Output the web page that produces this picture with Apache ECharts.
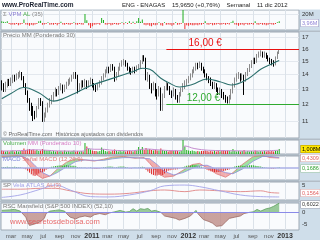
<!DOCTYPE html>
<html><head><meta charset="utf-8">
<script src="https://cdn.jsdelivr.net/npm/echarts@6/dist/echarts.min.js"></script>
<style>html,body{margin:0;padding:0;background:#cfdeea}#c{width:320px;height:240px}</style>
</head><body><div id="c"></div>
<script>
// ---------- data (weekly, first week = 2010-01-25) ----------
const firstWeek = [2010, 0, 25];
// [open, close, low, high]
const candles = [
[13.4,13.2,12.9,13.6],[13.2,13.0,12.8,13.4],[13.0,13.3,12.8,13.5],[13.3,13.5,13.1,13.7],[13.5,13.4,13.2,13.7],
[13.4,13.6,13.2,13.8],[13.6,13.8,13.4,14.0],[13.8,13.7,13.5,14.0],[13.7,13.9,13.6,14.1],[13.9,14.0,13.7,14.2],
[14.0,14.1,13.8,14.3],[14.1,13.8,13.6,14.2],[13.8,13.3,13.1,13.9],[13.3,12.8,12.6,13.4],[12.8,12.3,12.1,12.9],
[12.3,11.9,11.6,12.4],[11.9,11.6,11.3,12.1],[11.6,11.4,11.0,11.9],[11.4,11.3,11.1,11.6],[11.3,11.8,11.2,11.9],
[11.8,12.2,11.7,12.4],[12.2,12.1,11.9,12.4],[12.1,11.1,10.95,12.2],[11.1,11.3,10.95,11.5],[11.3,11.6,11.2,11.8],
[11.6,11.9,11.5,12.1],[11.9,12.2,11.8,12.4],[12.2,12.4,12.0,12.6],[12.4,12.6,12.2,12.8],[12.6,12.9,12.5,13.1],
[12.9,12.7,12.5,13.0],[12.7,13.0,12.6,13.2],[13.0,13.2,12.9,13.4],[13.2,12.9,12.7,13.3],[12.9,13.1,12.8,13.3],
[13.1,13.3,13.0,13.5],[13.3,13.5,13.2,13.7],[13.5,13.6,13.3,13.8],[13.6,13.8,13.5,14.0],[13.8,14.0,13.7,14.2],
[14.0,13.9,13.7,14.2],[13.9,12.9,12.7,14.0],[12.9,13.2,12.8,13.4],[13.2,13.4,13.0,13.6],[13.4,13.3,13.1,13.6],
[13.3,13.5,13.1,13.7],[13.5,13.2,13.0,13.6],[13.2,13.4,13.1,13.6],[13.4,13.6,13.3,13.8],[13.6,13.3,13.1,13.7],
[13.3,13.1,12.9,13.4],[13.1,13.0,12.8,13.3],[13.0,13.2,12.9,13.4],[13.2,13.4,13.1,13.6],[13.4,13.7,13.3,13.9],
[13.7,13.9,13.6,14.1],[13.9,14.2,13.8,14.4],[14.2,14.4,14.1,14.6],[14.4,14.3,14.1,14.6],[14.3,14.6,14.2,14.8],
[14.6,14.5,14.3,14.8],[14.5,13.7,13.5,14.6],[13.7,14.0,13.6,14.2],[14.0,14.4,13.9,14.6],[14.4,14.7,14.3,14.9],
[14.7,14.9,14.6,15.1],[14.9,15.0,14.7,15.2],[15.0,14.8,14.6,15.1],[14.8,14.5,14.3,14.9],[14.5,14.3,14.1,14.6],
[14.3,14.2,14.0,14.5],[14.2,14.4,14.1,14.6],[14.4,14.3,14.1,14.6],[14.3,14.5,14.2,14.7],[14.5,14.6,14.4,14.8],
[14.6,14.9,14.5,15.1],[14.9,15.3,14.8,15.5],[15.3,15.2,15.0,15.5],[15.2,13.8,13.6,15.3],[13.8,13.9,13.5,14.2],
[13.9,13.2,13.0,14.0],[13.2,13.0,12.7,13.4],[13.0,13.3,12.9,13.5],[13.3,12.8,12.5,13.4],[12.8,12.6,12.3,13.0],
[12.6,13.0,12.5,13.2],[13.0,11.7,11.6,13.1],[11.7,12.5,11.6,12.7],[12.5,13.0,12.4,13.2],[13.0,13.3,12.9,13.5],
[13.3,13.1,12.9,13.4],[13.1,12.8,12.6,13.2],[12.8,12.6,12.4,12.9],[12.6,12.9,12.5,13.1],[12.9,12.4,12.3,13.0],
[12.4,12.2,12.1,12.6],[12.2,12.6,12.1,12.8],[12.6,12.9,12.5,13.1],[12.9,13.2,12.8,13.4],[13.2,13.4,13.0,13.6],
[13.4,13.5,13.2,13.7],[13.5,13.7,13.4,13.9],[13.7,13.9,13.6,14.1],[13.9,14.2,13.8,14.4],[14.2,14.4,14.1,14.6],
[14.4,14.7,14.3,14.9],[14.7,14.6,14.4,14.9],[14.6,14.8,14.5,15.0],[14.8,14.5,14.3,14.9],[14.5,14.3,14.1,14.6],
[14.3,14.0,13.8,14.4],[14.0,13.8,13.6,14.1],[13.8,13.6,13.4,13.9],[13.6,13.4,13.2,13.8],[13.4,13.2,13.0,13.5],
[13.2,13.3,13.0,13.5],[13.3,13.0,12.8,13.4],[13.0,12.8,12.6,13.1],[12.8,12.9,12.6,13.1],[12.9,12.6,12.4,13.0],
[12.6,12.5,12.3,12.8],[12.5,12.3,12.1,12.6],[12.3,12.15,12.05,12.5],[12.15,12.4,12.05,12.6],[12.4,12.8,12.3,13.0],
[12.8,13.2,12.7,13.4],[13.2,13.6,13.1,13.8],[13.6,13.9,13.5,14.1],[13.9,14.0,13.7,14.2],[14.0,13.7,13.5,14.1],
[13.7,13.9,13.6,14.1],[13.9,13.6,12.6,14.0],[13.6,14.0,13.5,14.2],[14.0,14.3,13.9,14.5],[14.3,14.6,14.2,14.8],
[14.6,14.9,14.5,15.1],[14.9,15.1,14.8,15.3],[15.1,15.0,14.8,15.3],[15.0,15.4,14.9,15.6],[15.4,15.6,15.3,15.8],
[15.6,15.7,15.4,15.9],[15.7,15.5,15.3,15.8],[15.5,15.6,15.3,15.8],[15.6,15.4,15.2,15.7],[15.4,15.2,15.0,15.5],
[15.2,15.0,14.8,15.3],[15.0,14.9,14.7,15.2],[14.9,14.8,14.6,15.1],[14.8,15.3,14.7,15.4],[15.3,15.7,15.2,15.8],
[15.7,15.965,15.6,16.0]
];
// weighted MA 30: [weekIndex, value]
const maPoints = [[0,12.35],[5,12.7],[12,13.1],[20,12.75],[28,12.2],[33,12.35],[41,12.8],[49,13.27],[59,13.7],[71,14.24],[76,14.48],[80,14.4],[86,13.75],[90,13.45],[96,13.13],[103,13.3],[111,13.69],[118,13.5],[124,13.27],[133,13.69],[140,14.4],[147,14.88],[150,15.069]];
const resistance = 16, support = 12, levelStartWeek = 89;
// VPM AL (35), millions
const vpm = [4,3,2,4,-2,-4,-3,-4,-2,-5,-3,-2,8,-3,-4,-6,-4,-5,-3,-2,4,5,
-4,-3,-2,2,-4,-3,-4,-2,-5,-2,3,-3,-4,-2,-3,-4,-2,2,-3,-4,-2,-3,-4,
20,6,-5,-11,-7,-4,-3,-2,-4,11,7,
-3,-4,-2,-5,-4,-2,-3,-4,-2,2,-3,2,-2,4,-2,3,-2,4,11,3,8,-4,-5,-4,-6,-7,
-4,-5,-4,2,-5,-6,2,-4,-3,-4,-6,-4,2,-4,-3,-2,30,-13,
-5,-6,-4,-5,-5,-4,-5,-3,-4,-2,4,
-3,-4,-2,-5,-4,-3,-2,-4,-3,-2,-4,-2,-3,2,5,
-3,-4,-6,-4,-3,-5,-2,-4,-3,-2,-4,4,
-3,-4,-2,-4,-3,-5,-4,-2,-3,-4,-2,2,4];
// weekly volume, millions
const volume = [0.7,0.6,0.5,0.6,0.5,0.6,0.7,0.5,0.6,0.5,0.6,0.7,1.1,
0.8,0.9,1.0,0.8,0.9,0.7,0.8,0.6,0.7,1.0,0.8,0.7,0.6,0.7,0.5,0.6,0.5,0.6,0.5,0.6,0.5,0.7,0.5,0.6,0.5,0.6,0.7,0.5,0.6,0.5,0.6,0.5,
2.2,1.5,1.1,0.9,0.7,0.6,0.6,0.5,0.6,1.3,1.0,
0.6,0.5,0.6,0.5,0.7,0.9,0.6,0.5,0.6,0.5,0.6,0.5,0.6,0.7,0.6,0.5,0.6,0.7,
1.4,0.9,1.4,0.8,1.2,
0.9,1.0,0.8,0.7,0.8,0.7,0.7,1.1,0.8,0.6,0.6,0.5,0.6,0.7,0.6,0.7,0.6,0.5,0.6,
3.5,1.5,
0.8,0.7,0.6,0.7,0.6,0.5,0.6,0.5,0.6,0.6,0.7,0.6,0.5,0.6,0.5,0.6,0.5,0.6,0.5,0.6,0.7,0.6,0.7,0.6,0.5,
1.0,
0.6,0.5,0.6,0.5,0.6,0.8,0.5,0.6,0.5,0.6,0.5,0.7,0.6,0.5,0.6,0.5,0.6,0.5,0.6,0.5,0.6,0.5,0.6,0.7,1.008];
const volMA = [[0,0.6],[12,0.7],[16,0.85],[24,0.75],[30,0.62],[44,0.58],[46,1.1],[50,0.95],[54,0.95],[60,0.75],[70,0.65],[74,0.8],[78,1.0],[84,0.85],[90,0.7],[97,0.65],[99,1.6],[104,1.1],[112,0.75],[125,0.65],[135,0.6],[150,0.75]];
// MACD histogram
const macdHist = [0.03,0.04,0.04,0.05,0.04,0.03,0.04,0.05,0.04,0.03,0.03,0.01,-0.02,
-0.05,-0.12,-0.2,-0.27,-0.33,-0.35,-0.3,-0.24,-0.18,-0.2,-0.15,-0.08,
-0.03,0.02,0.05,0.07,0.09,
0.1,0.11,0.12,0.1,0.11,0.12,0.12,0.11,0.1,0.1,0.08,0.03,0.02,
0.02,0.01,0.02,-0.01,0.01,0.02,-0.02,-0.03,
-0.04,-0.03,-0.02,0.01,0.03,0.04,
0.05,0.06,0.06,0.05,0.02,0.03,0.05,0.06,0.07,0.06,0.04,0.02,
-0.01,-0.02,0.01,0.02,0.01,0.02,0.03,0.05,0.04,
-0.08,-0.15,-0.22,-0.27,-0.3,-0.33,-0.33,-0.3,-0.33,-0.3,-0.24,-0.17,-0.12,-0.1,-0.08,
-0.07,-0.06,-0.05,-0.02,0.01,0.04,0.07,0.1,
0.11,0.12,0.13,0.12,0.12,0.1,0.08,0.05,
0.01,-0.04,-0.08,-0.11,-0.14,-0.16,-0.17,-0.18,-0.17,-0.16,-0.15,-0.13,-0.11,-0.09,
-0.06,-0.02,0.02,0.06,0.09,
0.1,0.11,0.1,0.09,0.1,0.11,0.12,0.12,0.12,0.1,0.09,0.08,0.06,
0.04,0.02,0.01,-0.01,-0.02,-0.03,-0.03,-0.01,0.01,0.03];
// [weekIndex, MACD, signal]
const macdPts = [[0,0.5,0.45],[8,0.55,0.5],[11,0.5,0.52],[15,0.1,0.35],[18,-0.25,0.1],[22,-0.45,-0.2],[26,-0.35,-0.35],[30,-0.05,-0.2],[35,0.25,0.05],[40,0.4,0.28],[45,0.35,0.35],[50,0.3,0.33],[55,0.38,0.33],[60,0.47,0.4],[66,0.5,0.45],[72,0.42,0.45],[77,0.45,0.42],[80,0.2,0.4],[84,-0.2,0.15],[88,-0.4,-0.15],[93,-0.35,-0.3],[98,-0.1,-0.2],[103,0.15,-0.02],[107,0.2,0.1],[111,0.0,0.12],[116,-0.25,-0.05],[121,-0.4,-0.2],[125,-0.2,-0.25],[130,0.15,-0.05],[136,0.5,0.3],[141,0.55,0.5],[145,0.45,0.5],[150,0.4309,0.45]];
// SP Vela ATLAS lines
const spRed = [[0,2.5],[10,2.5],[21,3],[29,3],[37,1.5],[48,-0.3],[58,-0.5],[69,0],[80,1.5],[88,2],[99,1],[107,2],[118,1.5],[129,1],[140,1.5],[145,0.5],[150,0.1564]];
const spBlue = [[0,-2.5],[10,-1],[21,2.5],[29,5],[37,2],[48,-2],[58,-2.2],[69,-1],[80,1.5],[88,4.5],[99,5],[107,4],[118,1.5],[129,-1],[140,-2],[150,-2.2]];
// RSC Mansfield
const rsc = [[0,0.8],[4,1.0],[7,1.2],[10,0.5],[11,0],[13,-2],[14,-4],[15,-5.4],[17,-5],[19,-4.5],[21,-3.8],[23,-2.5],[24,-0.5],[26,0.5],[29,0.8],[31,1.0],[34,0.5],[35,-0.5],[37,-2],[40,-2.7],[42,-2],[45,-1.5],[48,-2],[50,-1],[53,-0.5],[56,-1],[58,-0.3],[61,0.2],[64,0.8],[67,0.1],[69,0.3],[71,1.5],[73,0.5],[75,1.5],[77,1.2],[79,1.6],[81,0.5],[83,0.8],[86,0],[88,-1.5],[91,-2],[94,-2.5],[96,-3.2],[99,-2.5],[102,-1.5],[105,0.8],[106,-0.5],[109,-3],[112,-3.8],[114,-4.5],[116,-5.8],[119,-5.5],[121,-4],[123,-2.5],[126,-2],[129,-1.5],[131,-0.5],[134,0],[136,0.2],[138,1.2],[140,0.5],[141,0],[143,1.5],[145,1.8],[147,2.5],[148,3.2],[150,3.8]];
// axis ticks / labels
const monthTicks = ['2010-03-01','2010-05-01','2010-07-01','2010-09-01','2010-11-01','2011-01-01','2011-03-01','2011-05-01','2011-07-01','2011-09-01','2011-11-01','2012-01-01','2012-03-01','2012-05-01','2012-07-01','2012-09-01','2012-11-01','2013-01-01'];
const monthLabels = ['mar','may','jul','sep','nov','2011','mar','may','jul','sep','nov','2012','mar','may','jul','sep','nov','2013'];
const priceTicks = [11,12,13,14,15,16,17];

// ---------- build ----------
const FONT = 'Liberation Sans, Arial, sans-serif';
const WEEK = 7*86400000;
const t0 = Date.UTC(firstWeek[0], firstWeek[1], firstWeek[2]);
const weekTs = i => t0 + i*WEEK;
const ts = s => { const p = s.split('-').map(Number); return Date.UTC(p[0], p[1]-1, p[2]); };
const monthTs = monthTicks.map(ts);
const xMin = weekTs(-0.4), xMax = weekTs(160.7);
const pair = arr => arr.map(p => [weekTs(p[0]), p[1]]);

const gridDefs = [[10,20],[32,106],[140,14],[156,24],[182,18],[203,29]];
const grid = gridDefs.map(g => ({left:1, right:21, top:g[0], height:g[1], show:true,
  backgroundColor:'#f9fbfd', borderColor:'#9ea9b4', borderWidth:1}));

const xAxis = gridDefs.map((g,k) => ({
  type:'value', gridIndex:k, min:xMin, max:xMax, scale:true,
  axisLine:{show:false}, axisTick:{show:false, customValues: monthTs},
  splitLine:{show:true, lineStyle:{color:'#dbe2e9', width:1}},
  axisLabel: k === 5 ? {
    show:true, customValues: monthTs, margin:3, fontSize:6, color:'#555', fontFamily:FONT,
    formatter: v => { let best=0, d=Infinity; monthTs.forEach((m,j)=>{ if(Math.abs(m-v)<d){d=Math.abs(m-v);best=j;} });
      const l = monthLabels[best]; return /^\d+$/.test(l) ? '{b|'+l+'}' : l; },
    rich:{b:{fontWeight:'bold', fontSize:7, color:'#333', fontFamily:FONT}}
  } : {show:false}
}));

const yLab = {fontSize:6, color:'#333', margin:3, fontFamily:FONT};
const yAxis = [
  {gridIndex:0, type:'value', position:'right', min:-15.5, max:29, axisLine:{show:false}, axisTick:{show:false, customValues:[20]},
   splitLine:{show:true, lineStyle:{color:'#e3e8ee'}}, axisLabel:Object.assign({customValues:[20], formatter:'{value}M'}, yLab)},
  {gridIndex:1, type:'log', logBase:10, position:'right', min:10.07, max:17.49, axisLine:{show:false}, axisTick:{show:false, customValues:priceTicks},
   splitLine:{show:true, lineStyle:{color:'#e3e8ee'}}, axisLabel:Object.assign({customValues:priceTicks, formatter: v => String(Math.round(v))}, yLab)},
  {gridIndex:2, type:'value', position:'right', min:0, max:2.8, axisLine:{show:false}, axisTick:{show:false}, splitLine:{show:false}, axisLabel:{show:false}},
  {gridIndex:3, type:'value', position:'right', min:-0.52, max:0.52, axisLine:{show:false}, axisTick:{show:false}, splitLine:{show:false}, axisLabel:{show:false}},
  {gridIndex:4, type:'value', position:'right', min:-4.06, max:6.85, axisLine:{show:false}, axisTick:{show:false, customValues:[5]},
   splitLine:{show:false}, axisLabel:Object.assign({customValues:[5]}, yLab)},
  {gridIndex:5, type:'value', position:'right', min:-7.3, max:3.85, axisLine:{show:false}, axisTick:{show:false, customValues:[0,-5]},
   splitLine:{show:false}, axisLabel:Object.assign({customValues:[0,-5]}, yLab)}
];

const boxLabel = (txt, bg, fg, bc) => ({show:true, position:'end', distance:2, formatter:txt, backgroundColor:bg, color:fg,
  borderColor:bc, borderWidth:0.6, padding:[1,1,0,1], fontSize:5.5, fontFamily:FONT});

// two-tone fill for RSC: colour change at zero inside the shape's bounding box
const rscVals = rsc.map(p => p[1]);
const rMax = Math.max(0, ...rscVals), rMin = Math.min(0, ...rscVals);
const zf = rMax / (rMax - rMin);
const twoTone = (up, down) => new echarts.graphic.LinearGradient(0, 0, 0, 1, [
  {offset:0, color:up}, {offset:zf, color:up}, {offset:zf, color:down}, {offset:1, color:down}]);

const series = [
  {type:'bar', xAxisIndex:0, yAxisIndex:0, barWidth:1, data: vpm.map((v,i)=>[weekTs(i), v]),
   itemStyle:{color: p => p.value[1] >= 0 ? '#1fae1f' : '#ee3030'}},
  {type:'candlestick', xAxisIndex:1, yAxisIndex:1, barWidth:1.3,
   data: candles.map((r,i)=>[weekTs(i), r[0], r[1], r[2], r[3]]), encode:{x:0, y:[1,2,3,4]},
   itemStyle:{color:'#ffffff', color0:'#000000', borderColor:'#8a8a8a', borderColor0:'#000000', borderWidth:1},
   markLine:{silent:true, symbol:['none','none'], animation:false, data:[
     [{coord:[weekTs(levelStartWeek), resistance], lineStyle:{color:'#e81010', width:1.2, type:'solid'}, label:{show:false}}, {coord:[xMax, resistance]}],
     [{coord:[weekTs(levelStartWeek), support], lineStyle:{color:'#2faa2f', width:1.2, type:'solid'}, label:{show:false}}, {coord:[xMax, support]}],
     {yAxis: candles[candles.length-1][1], lineStyle:{opacity:0}, label: boxLabel('15,9650', '#ffe800', '#000', '#b09000')}
   ]},
   markPoint:{silent:true, symbol:'circle', symbolSize:0, animation:false, data:[
     {coord:[weekTs(110), resistance], label:{show:true, position:'top', distance:1, formatter:'16,00 €', color:'#e81010', fontSize:10, fontFamily:FONT}},
     {coord:[weekTs(109), support], label:{show:true, position:'top', distance:1, formatter:'12,00 €', color:'#2faa2f', fontSize:10, fontFamily:FONT}}
   ]}},
  {type:'line', xAxisIndex:1, yAxisIndex:1, data: pair(maPoints), smooth:0.4, symbol:'none', lineStyle:{color:'#2b6f6c', width:1.1},
   markLine:{silent:true, symbol:['none','none'], animation:false, data:[
     {yAxis: maPoints[maPoints.length-1][1], lineStyle:{opacity:0}, label: boxLabel('15,069', '#ffffff', '#2b6f6c', '#9aa')}]}},
  {type:'bar', xAxisIndex:2, yAxisIndex:2, barWidth:1, data: volume.map((v,i)=>[weekTs(i), v]),
   itemStyle:{color: p => candles[p.dataIndex][1] >= candles[p.dataIndex][0] ? '#1fae1f' : '#dd2020'}},
  {type:'line', xAxisIndex:2, yAxisIndex:2, data: pair(volMA), smooth:0.4, symbol:'none', lineStyle:{color:'#c58ccf', width:1}},
  {type:'custom', xAxisIndex:3, yAxisIndex:3, data: macdPts.map(p=>[weekTs(p[0]), p[1], p[2]]), encode:{x:0, y:[1,2]},
   renderItem: (params, api) => {
     const k = params.dataIndex; if (k >= macdPts.length-1) return null;
     const a = macdPts[k], b = macdPts[k+1];
     const pts = [api.coord([weekTs(a[0]), a[1]]), api.coord([weekTs(b[0]), b[1]]), api.coord([weekTs(b[0]), b[2]]), api.coord([weekTs(a[0]), a[2]])];
     const up = (a[1]+b[1]) >= (a[2]+b[2]);
     return {type:'polygon', shape:{points:pts}, style:{fill: up ? 'rgba(90,205,90,0.55)' : 'rgba(235,110,110,0.55)'}};
   }},
  {type:'bar', xAxisIndex:3, yAxisIndex:3, barWidth:1, data: macdHist.map((v,i)=>[weekTs(i), v]),
   itemStyle:{color: p => p.value[1] >= 0 ? '#22b022' : '#dd2a2a'},
   markLine:{silent:true, symbol:['none','none'], animation:false, label:{show:false}, data:[{yAxis:0, lineStyle:{color:'#aab0e6', width:1.5, type:'solid'}}]}},
  {type:'line', xAxisIndex:3, yAxisIndex:3, data: macdPts.map(p=>[weekTs(p[0]), p[1]]), symbol:'none', lineStyle:{color:'#e07a7a', width:0.8}},
  {type:'line', xAxisIndex:3, yAxisIndex:3, data: macdPts.map(p=>[weekTs(p[0]), p[2]]), symbol:'none', lineStyle:{color:'#8f8fdc', width:0.8}},
  {type:'line', xAxisIndex:4, yAxisIndex:4, data: pair(spRed), smooth:0.4, symbol:'none', lineStyle:{color:'#e08585', width:0.9}},
  {type:'line', xAxisIndex:4, yAxisIndex:4, data: pair(spBlue), smooth:0.4, symbol:'none', lineStyle:{color:'#a3a3e8', width:0.9}},
  {type:'line', xAxisIndex:5, yAxisIndex:5, data: pair(rsc), symbol:'none',
   lineStyle:{width:0.8, color: twoTone('#5d9e5d', '#9c6a64')},
   areaStyle:{opacity:1, color: twoTone('rgba(120,185,120,0.75)', 'rgba(190,140,135,0.8)')},
   markLine:{silent:true, symbol:['none','none'], animation:false, label:{show:false}, data:[{yAxis:0, lineStyle:{color:'#8a8ae8', width:1.2, type:'solid'}}]}}
];

const txt = (x, y, text, size, fill, extra) => ({type:'text', x:x, y:y, silent:true, z:100,
  style:Object.assign({text:text, fontSize:size, fontFamily:FONT, fill:fill, verticalAlign:'middle'}, extra||{})});
const box = (y, text, fg, bg, bc) => txt(301, y, text, 5.5, fg, {backgroundColor:bg, borderColor:bc, borderWidth:0.6, padding:[1,1,0,1]});
const sep = (y, h) => ({type:'rect', shape:{x:0, y:y, width:320, height:h}, style:{fill:'#b3bdc7'}, silent:true, z:-1});

const graphic = [
  {type:'rect', shape:{x:0, y:0, width:320, height:9.5}, style:{fill:'#ffffff'}, silent:true, z:50},
  sep(30.5, 1.5), sep(138.5, 1.5), sep(154.5, 1.5), sep(180.5, 1.5), sep(200.5, 2),
  txt(2, 5, 'www.ProRealTime.com', 6.5, '#1c2230', {fontWeight:'bold'}),
  txt(122, 5, 'ENG - ENAGAS    15,9650 (+0,76%)    Semanal    11 dic 2012', 6, '#222'),
  txt(3, 14, '{g|Σ} {p|VPM} {v|AL} {g|(35)}', 6, '#777', {rich:{g:{fill:'#888', fontSize:6}, p:{fill:'#8c7fd4', fontSize:6}, v:{fill:'#4caf4c', fontSize:6}}}),
  txt(3, 35.5, 'Precio MM (Ponderado 30)', 6, '#777'),
  txt(3, 134.5, '© ProRealTime.com  Históricos ajustados con dividendos', 5.5, '#666'),
  txt(3, 143.5, '{v|Volumen} {m|MM (Ponderado 10)}', 6, '#777', {rich:{v:{fill:'#4caf4c', fontSize:6}, m:{fill:'#d67fc4', fontSize:6}}}),
  txt(3, 159.5, '{a|MACD} {b|Señal MACD (12,26,9)}', 6, '#777', {rich:{a:{fill:'#7f86d8', fontSize:6}, b:{fill:'#e07a7a', fontSize:6}}}),
  txt(3, 185.5, '{a|SP} {b|Vela ATLAS} {c|AL(3)}', 6, '#777', {rich:{a:{fill:'#777', fontSize:6}, b:{fill:'#a3a3e8', fontSize:6}, c:{fill:'#e08585', fontSize:6}}}),
  txt(3, 206.5, 'RSC Mansfield (S&P 500 INDEX) (52,10)', 6, '#777'),
  txt(10, 222, 'www.secretosdebolsa.com', 7.6, '#e55a5a', {opacity:0.9}),
  box(23, '3,96M', '#8c7fd4', '#ffffff', '#a0a0c8'),
  box(149, '1,008M', '#000', '#ffe800', '#b09000'),
  box(158, '0,4309', '#e06060', '#ffffff', '#d8a0a0'),
  box(168.5, '0,1686', '#30a030', '#ffffff', '#a0c8a0'),
  box(193, '0,1564', '#e06060', '#ffffff', '#d8a0a0'),
  box(204.5, '0,6022', '#333', '#ffffff', '#a0a0b0')
];

const chart = echarts.init(document.getElementById('c'), null, {renderer:'canvas', width:320, height:240});
chart.setOption({
  animation:false, backgroundColor:'#cfdeea',
  grid: grid, xAxis: xAxis, yAxis: yAxis, series: series, graphic: graphic
});
</script></body></html>
